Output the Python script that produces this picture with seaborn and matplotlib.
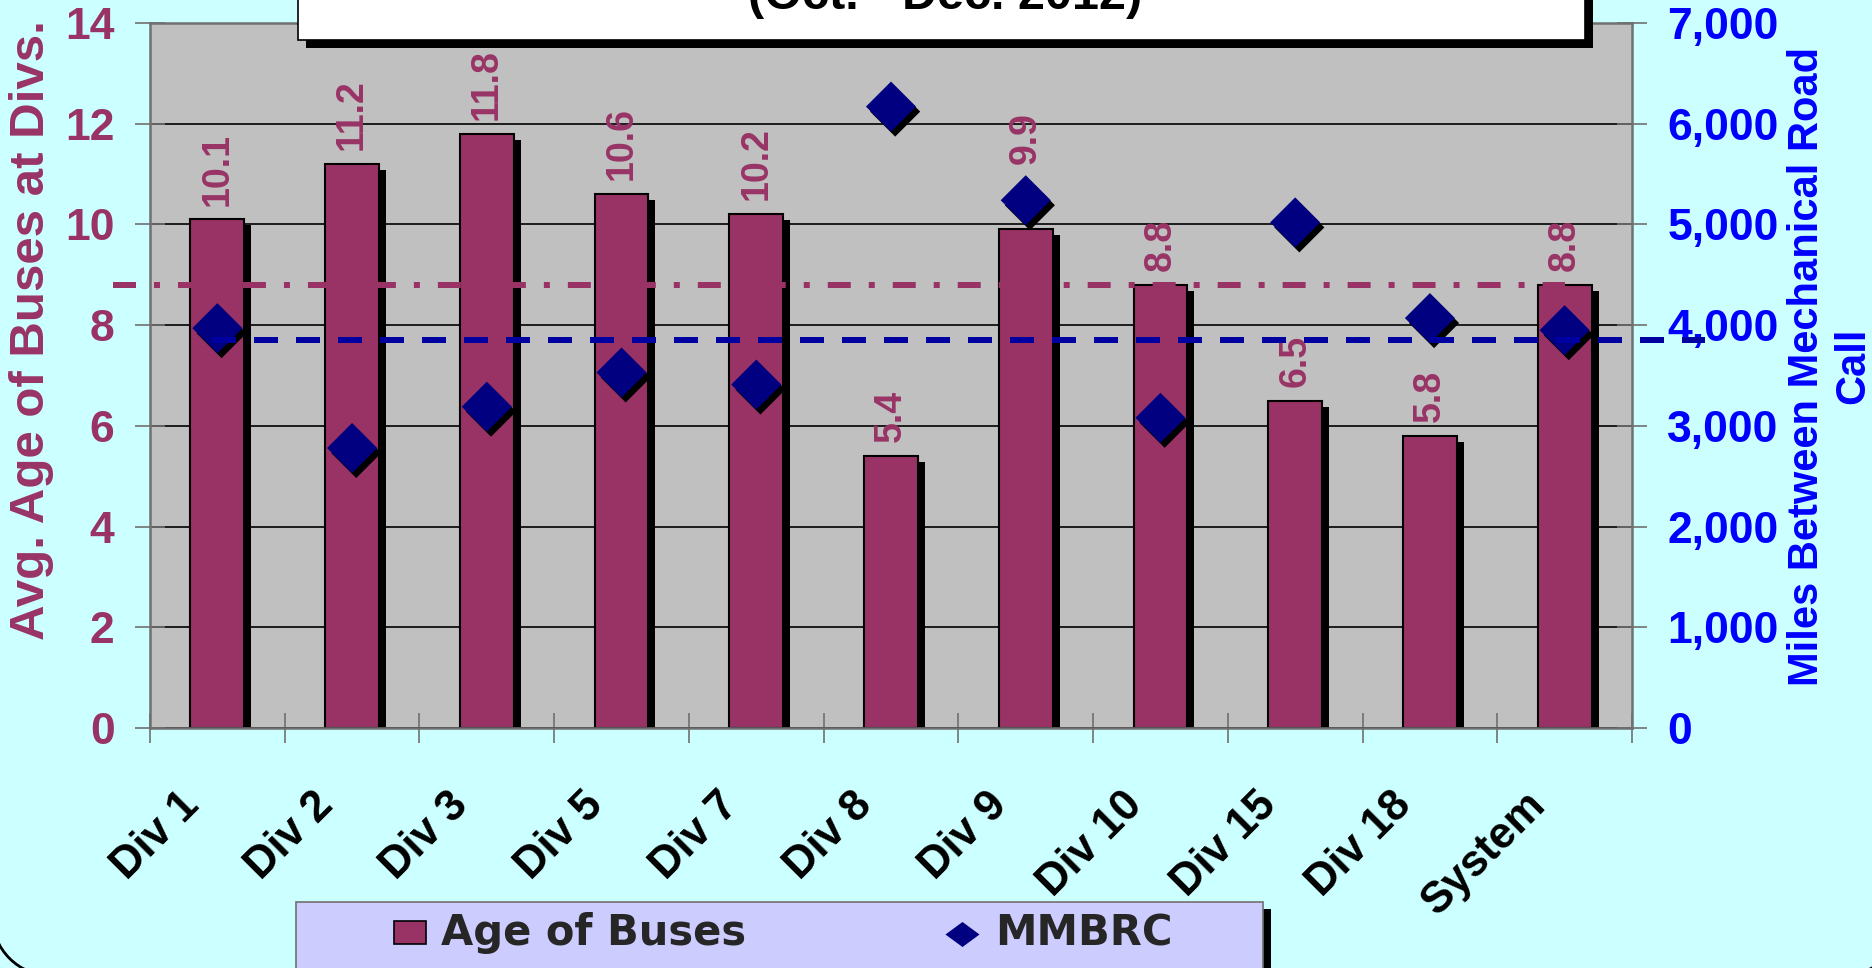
import numpy as np
import pandas as pd
import matplotlib
matplotlib.use("Agg")
import matplotlib.pyplot as plt
import matplotlib.patheffects as pe
import matplotlib.transforms as mtransforms
from matplotlib.patches import Rectangle, Arc
from matplotlib.lines import Line2D
import seaborn as sns

# data
divisions = ["Div 1", "Div 2", "Div 3", "Div 5", "Div 7", "Div 8", "Div 9",
             "Div 10", "Div 15", "Div 18", "System"]
bus_age = [10.1, 11.2, 11.8, 10.6, 10.2, 5.4, 9.9, 8.8, 6.5, 5.8, 8.8]
mmbrc = [3970, 2780, 3190, 3530, 3410, 6170, 5240, 3080, 5020, 4070, 3950]
age_avg = 8.8
mmbrc_avg = 3850
left_ticks = [0, 2, 4, 6, 8, 10, 12, 14]
right_ticks = [0, 1000, 2000, 3000, 4000, 5000, 6000, 7000]
subtitle = "(Oct. - Dec. 2012)"
legend_labels = ["Age of Buses", "MMBRC"]

MAROON = "#993366"
NAVY = "#000080"
BLUE = "#0000FF"
CYAN_BG = "#CCFFFF"
PLOT_BG = "#C0C0C0"
LEGEND_BG = "#CCCCFF"
GREY = "#707070"

sns.set_theme(style="white")
plt.rcParams["font.family"] = ["Liberation Sans", "DejaVu Sans"]

W, H = 1872, 968
fig = plt.figure(figsize=(W / 100, H / 100), dpi=100, facecolor=CYAN_BG)

ax = fig.add_axes([150 / W, 1 - 728 / H, 1482 / W, 705 / H])
ax.set_facecolor(PLOT_BG)
ax.set_axisbelow(True)

df = pd.DataFrame({"division": divisions, "age": bus_age, "mmbrc": mmbrc})

sns.barplot(data=df, x="division", y="age", color=MAROON, saturation=1,
            width=0.40, edgecolor="black", linewidth=1.5, ax=ax)
for p in ax.patches:
    p.set_path_effects([pe.SimplePatchShadow(offset=(5, -4.3), shadow_rgbFace="black", alpha=1),
                        pe.Normal()])

labels = ax.bar_label(ax.containers[0], labels=[f"{v:.1f}" for v in bus_age], rotation=90,
                      padding=10, color=MAROON, fontsize=27, fontweight="bold")
# the Div 9 label sits above its diamond in the original
labels[divisions.index("Div 9")].xyann = (0, 47)

ax.set_ylim(0, 14)
ax.set_yticks(left_ticks)
ax.yaxis.grid(True, color="black", linewidth=1.2)
ax.xaxis.grid(False)

# average age line
ax.plot([-0.775, 10], [age_avg, age_avg], color=MAROON, lw=4.32,
        dashes=(3.83, 3, 1, 3), clip_on=False, zorder=4)

ax2 = ax.twinx()
sns.scatterplot(x=df.index, y=df["mmbrc"], ax=ax2, marker="D", s=650, color=NAVY,
                edgecolor="none", linewidth=0, zorder=3, legend=False)
ax2.collections[0].set_path_effects([pe.SimplePatchShadow(offset=(3, -3.6), shadow_rgbFace="black", alpha=1),
                                     pe.Normal()])
# average MMBRC line
ax2.plot([-0.04, 11.04], [mmbrc_avg, mmbrc_avg], color="#0000A0", lw=4.32,
         dashes=(4, 3), clip_on=False, zorder=4)
ax2.set_ylim(0, 7000)
ax2.set_yticks(right_ticks)
ax2.set_yticklabels([f"{v:,}" for v in right_ticks], fontweight="bold")
ax2.grid(False)
ax.set_xlim(-0.5, len(divisions) - 0.5)

# spines
for s in ["left", "bottom", "top"]:
    ax.spines[s].set_color(GREY)
    ax.spines[s].set_linewidth(1.8)
ax.spines["right"].set_visible(False)
for s in ["left", "bottom", "top"]:
    ax2.spines[s].set_visible(False)
ax2.spines["right"].set_color(GREY)
ax2.spines["right"].set_linewidth(1.8)

# ticks
ax.tick_params(axis="y", direction="inout", length=21, width=1.2, color=GREY,
               labelsize=32, labelcolor=MAROON, pad=15, left=True)
for t in ax.get_yticklabels():
    t.set_fontweight("bold")
ax2.tick_params(axis="y", direction="inout", length=21, width=1.2, color=GREY,
                labelsize=32, labelcolor=BLUE, pad=15, right=True)

ax.set_xticks(np.arange(-0.5, len(divisions), 1), minor=True)
ax.tick_params(axis="x", which="major", length=0, pad=51, labelsize=31.5, labelcolor="black")
ax.tick_params(axis="x", which="minor", direction="inout", length=21, width=1.2,
               color=GREY, bottom=True)
shift = mtransforms.ScaledTranslation(-25 / 100, 0, fig.dpi_scale_trans)
for lab in ax.get_xticklabels():
    lab.set_rotation(45)
    lab.set_ha("right")
    lab.set_va("center")
    lab.set_rotation_mode("anchor")
    lab.set_fontweight("bold")
    lab.set_transform(lab.get_transform() + shift)

ax.set_xlabel("")
ax.set_ylabel("Avg. Age of Buses at Divs.", color=MAROON, fontsize=35.5, fontweight="bold")
ax.yaxis.set_label_coords(-0.0648, 0.5645)
ax2.set_ylabel("Miles Between Mechanical Road\nCall", color=BLUE, fontsize=30,
               fontweight="bold", linespacing=1.2)
ax2.yaxis.set_label_coords(1.1046, 0.5135)

# title box (cut at the top of the slide)
fig.add_artist(Rectangle((306 / W, 1 - 48 / H), 1287 / W, 0.2, transform=fig.transFigure,
                         facecolor="black", edgecolor="none", zorder=5))
fig.add_artist(Rectangle((298 / W, 1 - 40 / H), 1287 / W, 0.2, transform=fig.transFigure,
                         facecolor="white", edgecolor="black", lw=1.2, zorder=6))
fig.text(945 / W, 1 - 9 / H, subtitle, ha="center", va="baseline", fontsize=35,
         fontweight="bold", color="black", zorder=7)

# legend box
fig.add_artist(Rectangle((304 / W, -0.1), 967 / W, 0.1 + (968 - 909) / H, transform=fig.transFigure,
                         facecolor="black", edgecolor="none", zorder=5))
fig.add_artist(Rectangle((296 / W, -0.1), 967 / W, 0.1 + (968 - 902) / H, transform=fig.transFigure,
                         facecolor=LEGEND_BG, edgecolor=GREY, lw=1.2, zorder=6))
fig.add_artist(Rectangle((394 / W, 1 - 944 / H), 31.5 / W, 23 / H, transform=fig.transFigure,
                         facecolor=MAROON, edgecolor="black", lw=1.2, zorder=7))
fig.add_artist(Line2D([962 / W], [1 - 933.5 / H], transform=fig.transFigure, linestyle="none",
                      marker=[(-1.36, 0), (0, 1), (1.36, 0), (0, -1)], markersize=24.5,
                      markerfacecolor=NAVY, markeredgewidth=0, zorder=7))
fig.text(441 / W, 1 - 945 / H, legend_labels[0], ha="left", va="baseline", fontsize=30,
         fontweight="bold", family="DejaVu Sans", zorder=7)
fig.text(995 / W, 1 - 945 / H, legend_labels[1], ha="left", va="baseline", fontsize=30,
         fontweight="bold", family="DejaVu Sans", zorder=7)

# rounded corners of the slide frame
fig.add_artist(Arc((52 / W, 52 / H), 120 / W, 120 / H, theta1=180, theta2=270,
                   transform=fig.transFigure, color="black", lw=2, zorder=8))
fig.add_artist(Arc((1842 / W, 52 / H), 120 / W, 120 / H, theta1=270, theta2=360,
                   transform=fig.transFigure, color="black", lw=2, zorder=8))

fig.savefig("out.png", dpi=100, facecolor=fig.get_facecolor())
